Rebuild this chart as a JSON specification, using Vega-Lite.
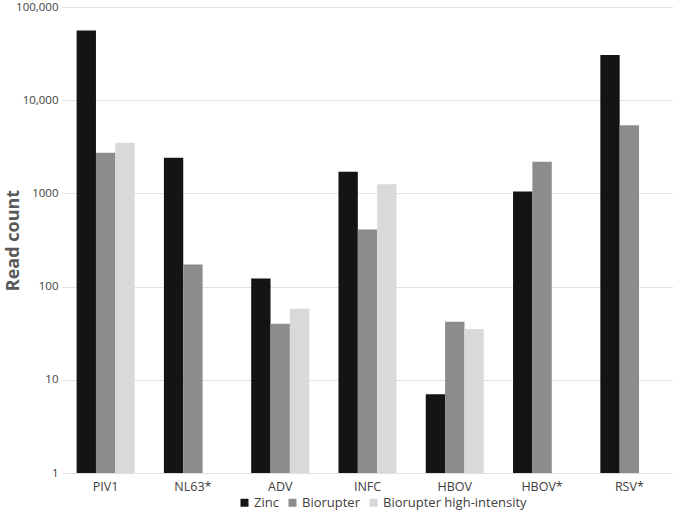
{
  "$schema": "https://vega.github.io/schema/vega-lite/v6.json",
  "width": 611,
  "height": 466,
  "autosize": {"type": "none"},
  "padding": {"left": 62, "top": 7, "right": 0, "bottom": 48},
  "background": "white",
  "data": {
    "values": [
      {"virus": "PIV1", "method": "Zinc", "count": 56000},
      {"virus": "PIV1", "method": "Biorupter", "count": 2735},
      {"virus": "PIV1", "method": "Biorupter high-intensity", "count": 3500},
      {"virus": "NL63*", "method": "Zinc", "count": 2420},
      {"virus": "NL63*", "method": "Biorupter", "count": 173},
      {"virus": "ADV", "method": "Zinc", "count": 122},
      {"virus": "ADV", "method": "Biorupter", "count": 40},
      {"virus": "ADV", "method": "Biorupter high-intensity", "count": 58},
      {"virus": "INFC", "method": "Zinc", "count": 1710},
      {"virus": "INFC", "method": "Biorupter", "count": 410},
      {"virus": "INFC", "method": "Biorupter high-intensity", "count": 1250},
      {"virus": "HBOV", "method": "Zinc", "count": 7},
      {"virus": "HBOV", "method": "Biorupter", "count": 42},
      {"virus": "HBOV", "method": "Biorupter high-intensity", "count": 35},
      {"virus": "HBOV*", "method": "Zinc", "count": 1045},
      {"virus": "HBOV*", "method": "Biorupter", "count": 2190},
      {"virus": "RSV*", "method": "Zinc", "count": 30600},
      {"virus": "RSV*", "method": "Biorupter", "count": 5390}
    ]
  },
  "mark": {"type": "bar"},
  "encoding": {
    "x": {
      "field": "virus",
      "type": "nominal",
      "sort": ["PIV1", "NL63*", "ADV", "INFC", "HBOV", "HBOV*", "RSV*"],
      "scale": {"paddingInner": 0.335, "paddingOuter": 0.1675},
      "axis": {
        "title": null,
        "labelAngle": 0,
        "labelFont": "Open Sans",
        "labelFontSize": 12.5,
        "labelColor": "#404040",
        "labelPadding": 7,
        "ticks": false,
        "domain": false,
        "grid": false
      }
    },
    "xOffset": {
      "field": "method",
      "type": "nominal",
      "sort": ["Zinc", "Biorupter", "Biorupter high-intensity"],
      "scale": {"domain": ["Zinc", "Biorupter", "Biorupter high-intensity"], "paddingInner": 0, "paddingOuter": 0}
    },
    "y": {
      "field": "count",
      "type": "quantitative",
      "scale": {"type": "log", "domain": [1, 100000], "nice": false},
      "axis": {
        "title": "Read count",
        "titleFont": "Open Sans",
        "titleFontSize": 18,
        "titleFontWeight": "bold",
        "titleColor": "#595959",
        "titleX": -40,
        "titleY": 233,
        "titleAngle": -90,
        "titleBaseline": "bottom",
        "titleAlign": "center",
        "values": [1, 10, 100, 1000, 10000, 100000],
        "labelExpr": "datum.value >= 10000 ? format(datum.value, ',') : format(datum.value, 'd')",
        "labelFont": "Open Sans",
        "labelFontSize": 11.5,
        "labelColor": "#404040",
        "labelPadding": 4,
        "ticks": false,
        "domain": false,
        "grid": true,
        "gridColor": "#e0e0e0",
        "gridWidth": 1
      }
    },
    "y2": {"datum": 1},
    "color": {
      "field": "method",
      "type": "nominal",
      "sort": ["Zinc", "Biorupter", "Biorupter high-intensity"],
      "scale": {
        "domain": ["Zinc", "Biorupter", "Biorupter high-intensity"],
        "range": ["#141414", "#8c8c8c", "#d9d9d9"]
      },
      "legend": {
        "title": null,
        "orient": "none",
        "direction": "horizontal",
        "legendX": 176,
        "legendY": 489,
        "symbolType": "square",
        "symbolSize": 64,
        "symbolStrokeWidth": 0,
        "labelFont": "Open Sans",
        "labelFontSize": 13,
        "labelColor": "#404040",
        "labelOffset": 3,
        "columnPadding": 7
      }
    }
  },
  "config": {"view": {"stroke": null}}
}
